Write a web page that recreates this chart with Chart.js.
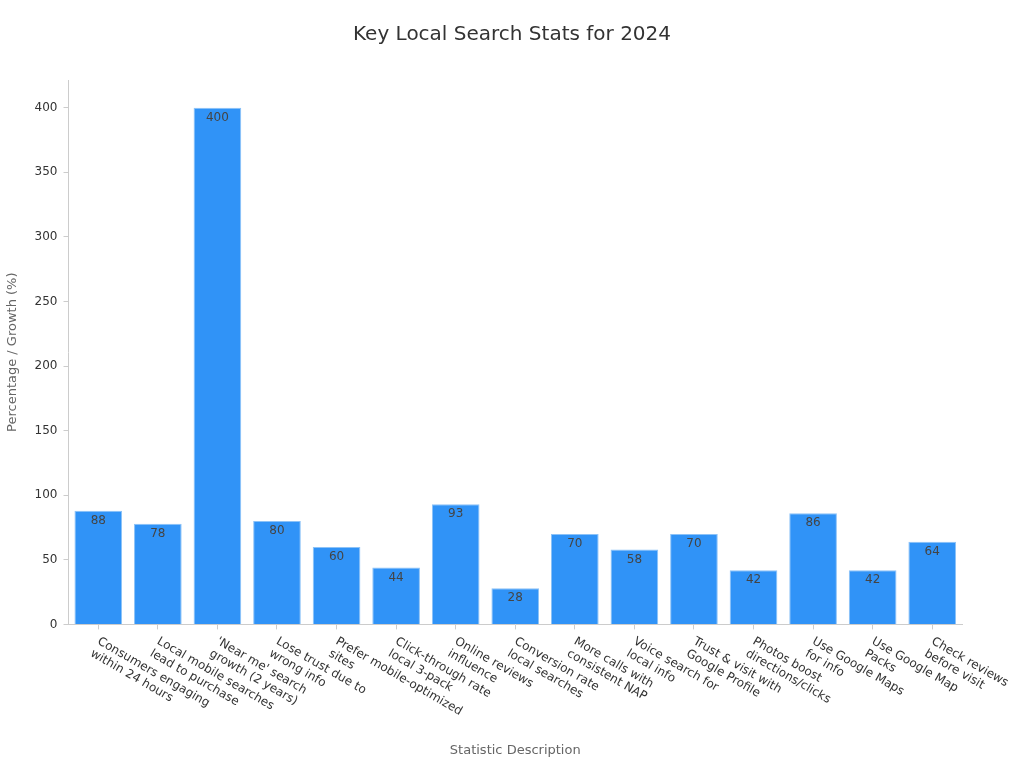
<!DOCTYPE html>
<html>
<head>
<meta charset="utf-8">
<script src="https://cdn.jsdelivr.net/npm/chart.js@4"></script>
<style>
  html, body { margin: 0; padding: 0; background: #fff; }
</style>
</head>
<body>
<canvas id="grafico" width="1024" height="768"></canvas>
<script>
const categorias = [
  ['Consumers engaging', 'within 24 hours'],
  ['Local mobile searches', 'lead to purchase'],
  ["'Near me' search", 'growth (2 years)'],
  ['Lose trust due to', 'wrong info'],
  ['Prefer mobile-optimized', 'sites'],
  ['Click-through rate', 'local 3-pack'],
  ['Online reviews', 'influence'],
  ['Conversion rate', 'local searches'],
  ['More calls with', 'consistent NAP'],
  ['Voice search for', 'local info'],
  ['Trust & visit with', 'Google Profile'],
  ['Photos boost', 'directions/clicks'],
  ['Use Google Maps', 'for info'],
  ['Use Google Map', 'Packs'],
  ['Check reviews', 'before visit']
];
const valores = [88, 78, 400, 80, 60, 44, 93, 28, 70, 58, 70, 42, 86, 42, 64];
const ticksY = [0, 50, 100, 150, 200, 250, 300, 350, 400];

const fuente = "'DejaVu Sans', sans-serif";

// etiquetas del eje x giradas hacia abajo-derecha
const etiquetasX = {
  id: 'etiquetasX',
  afterDraw(chart) {
    const ctx = chart.ctx;
    const x = chart.scales.x;
    ctx.save();
    ctx.font = '12px ' + fuente;
    ctx.fillStyle = '#333';
    ctx.textAlign = 'left';
    ctx.textBaseline = 'top';
    categorias.forEach((lineas, i) => {
      ctx.save();
      ctx.translate(x.getPixelForValue(i) + 3, x.top + 11);
      ctx.rotate(Math.PI / 6);
      lineas.forEach((t, j) => ctx.fillText(t, 0, j * 14));
      ctx.restore();
    });
    ctx.restore();
  }
};

// valores dentro de cada barra
const valoresBarra = {
  id: 'valoresBarra',
  afterDatasetsDraw(chart) {
    const ctx = chart.ctx;
    const meta = chart.getDatasetMeta(0);
    ctx.save();
    ctx.font = '12px ' + fuente;
    ctx.fillStyle = '#444';
    ctx.textAlign = 'center';
    ctx.textBaseline = 'middle';
    meta.data.forEach((bar, i) => {
      ctx.fillText(String(valores[i]), bar.x, bar.y + 10);
    });
    ctx.restore();
  }
};

new Chart(document.getElementById('grafico').getContext('2d'), {
  type: 'bar',
  data: {
    labels: categorias.map(l => l.join(' ')),
    datasets: [{
      data: valores,
      backgroundColor: '#3093f7',
      borderColor: '#8cc2f7',
      borderWidth: 1,
      barPercentage: 0.8,
      categoryPercentage: 1
    }]
  },
  options: {
    responsive: false,
    animation: false,
    layout: { padding: { left: 5, right: 5, bottom: 10 } },
    plugins: {
      legend: { display: false },
      tooltip: { enabled: false },
      title: {
        display: true,
        text: 'Key Local Search Stats for 2024',
        color: '#333',
        font: { family: fuente, size: 20, weight: 'normal' },
        padding: { top: 23, bottom: 33 }
      }
    },
    scales: {
      x: {
        border: { color: '#ccc' },
        grid: { drawOnChartArea: false, offset: false, tickLength: 5, color: '#ccc' },
        ticks: { display: false },
        title: {
          display: true,
          text: 'Statistic Description',
          color: '#666',
          font: { family: fuente, size: 13 },
          padding: { top: 113, bottom: 0 }
        }
      },
      y: {
        min: 0,
        max: 421.5,
        border: { color: '#ccc' },
        grid: { drawOnChartArea: false, tickLength: 5, color: '#ccc' },
        afterBuildTicks: axis => {
          axis.ticks = ticksY.map(v => ({ value: v }));
        },
        ticks: {
          color: '#333',
          padding: 6,
          font: { family: fuente, size: 12 }
        },
        title: {
          display: true,
          text: 'Percentage / Growth (%)',
          color: '#666',
          font: { family: fuente, size: 13 },
          padding: { top: 0, bottom: 8 }
        }
      },
      // eje vacío a la derecha para dejar margen y centrar el título
      margenDer: {
        position: 'right',
        border: { display: false },
        grid: { display: false },
        ticks: { display: false },
        afterFit: s => { s.width = 57; }
      }
    }
  },
  plugins: [etiquetasX, valoresBarra]
});
</script>
</body>
</html>
